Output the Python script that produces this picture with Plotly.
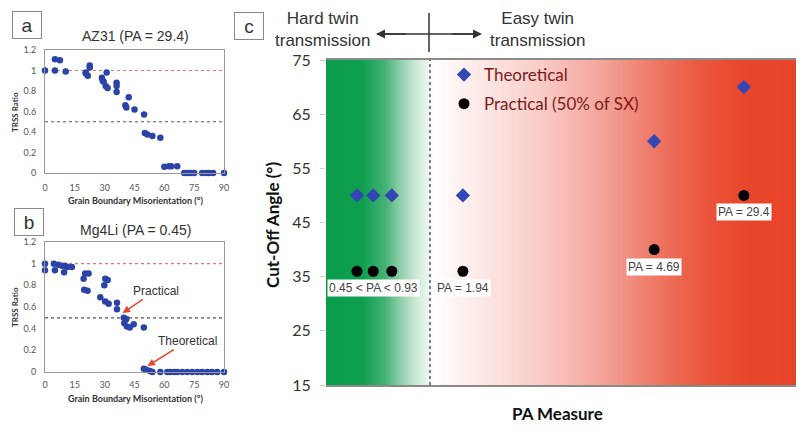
import numpy as np
import plotly.graph_objects as go

# page body has an 8px margin; the figure is sized so that it fills the 804x432 window exactly
OFF = 8
W, H = 804 - OFF, 432 - 2 * OFF


def px(x):
    return (x - OFF) / W


def py(y):
    return 1 - (y - OFF) / H


# ---------------- Data ----------------
# Panel a: AZ31 (PA = 29.4)
az31_misorientation = [0, 5, 7.5, 5, 10.4, 22.5, 22.5, 20.5, 20.5, 21.5, 28.6, 29, 31, 29.5, 30.5,
                       31.5, 36, 36, 36, 42.1, 40.4, 40.9, 45, 49.8, 50.2, 51.5, 54, 58, 60, 62.3,
                       63.5, 66.5, 70, 71.5, 73, 75, 79, 81, 82.5, 84.5, 90]
az31_trss = [1.00, 1.11, 1.10, 1.00, 0.99, 1.05, 1.03, 0.98, 0.97, 0.95, 0.93, 0.90, 0.98, 0.89, 0.85,
             0.83, 0.88, 0.85, 0.79, 0.74, 0.66, 0.64, 0.62, 0.57, 0.39, 0.375, 0.36, 0.345, 0.06, 0.065,
             0.065, 0.065, 0, 0, 0, 0, 0, 0, 0, 0, 0]

# Panel b: Mg4Li (PA = 0.45)
mg4li_misorientation = [0, 0, 4.5, 5, 6.7, 8.4, 10, 11.3, 9.6, 13.5, 20.2, 21.9, 19.4, 19.7, 21.4,
                        27.8, 30.3, 31.5, 29.8, 30.3, 32, 36.2, 36.2, 39.6, 40.9, 39.9, 41.2, 42.6,
                        44.6, 49.7, 49.7, 51, 52.7, 54, 58, 61.5, 63, 65, 66.5, 69, 71.5, 74, 76.6,
                        79, 81.6, 84, 86.6, 90]
mg4li_trss = [1.00, 0.94, 1.00, 0.94, 0.99, 0.98, 0.98, 0.97, 0.92, 0.97, 0.91, 0.91, 0.86, 0.76, 0.75,
              0.69, 0.86, 0.85, 0.80, 0.65, 0.63, 0.64, 0.58, 0.50, 0.49, 0.45, 0.42, 0.41,
              0.44, 0.41, 0.03, 0.02, 0.01, 0, 0, 0, 0, 0, 0, 0, 0, 0, 0,
              0, 0, 0, 0, 0]

trss_upper_level = 1.0
trss_half_level = 0.5
mis_ticks = [0, 15, 30, 45, 60, 75, 90]

# Panel c: cut-off angle vs PA measure (ordinal position along the PA axis)
pa_position = [0.65, 0.99, 1.38, 2.87, 6.88, 8.76]
cutoff_theoretical = [50, 50, 50, 50, 60, 70]
cutoff_practical = [36, 36, 36, 36, 40, 50]
pa_labels = ["0.45 &lt; PA &lt; 0.93", "PA = 1.94", "PA = 4.69", "PA = 29.4"]
pa_label_index = [1, 3, 4, 5]
divider_position = 2.18
cutoff_ticks = [15, 25, 35, 45, 55, 65, 75]

# ---------------- Styles ----------------
SANS = "Liberation Sans, Arial, sans-serif"
CAL = "Lato, Open Sans, sans-serif"
BLUE_PT = "#2b43a6"
DIAMOND = "#3346b5"

fig = go.Figure()

# gradient background (panel c)
gx = np.linspace(0, 10, 481)
cs_points = [
    (0.0, "#0a9d4c"), (0.075, "#0c9e4d"), (0.124, "#45b174"), (0.155, "#8dcea8"),
    (0.187, "#c9e8d5"), (0.2175, "#eef8f2"), (0.2185, "#ffffff"), (0.30, "#fdeeec"),
    (0.449, "#f9cdc7"), (0.574, "#f4a59b"), (0.679, "#ef7c6a"), (0.784, "#ea5840"),
    (0.868, "#e8472c"), (1.0, "#e8432a"),
]
fig.add_trace(go.Heatmap(
    x=gx, y=[15, 75], z=[gx, gx], zmin=0, zmax=10,
    colorscale=[[p, c] for p, c in cs_points], showscale=False,
    hoverinfo="skip", xaxis="x3", yaxis="y3"))

# panel a/b scatter
fig.add_trace(go.Scatter(x=az31_misorientation, y=az31_trss, mode="markers",
                         marker=dict(color=BLUE_PT, size=6.5), showlegend=False,
                         xaxis="x", yaxis="y", cliponaxis=False))
fig.add_trace(go.Scatter(x=mg4li_misorientation, y=mg4li_trss, mode="markers",
                         marker=dict(color=BLUE_PT, size=6.5), showlegend=False,
                         xaxis="x2", yaxis="y2", cliponaxis=False))

# panel c scatter
fig.add_trace(go.Scatter(x=pa_position, y=cutoff_theoretical, mode="markers", name="Theoretical",
                         marker=dict(color=DIAMOND, size=11, symbol="diamond"),
                         xaxis="x3", yaxis="y3", legendgroup="t"))
fig.add_trace(go.Scatter(x=pa_position, y=cutoff_practical, mode="markers",
                         name="Practical (50% of SX)",
                         marker=dict(color="black", size=11, symbol="circle"),
                         xaxis="x3", yaxis="y3", legendgroup="p"))

shapes = []
for xr, yr in (("x", "y"), ("x2", "y2")):
    shapes.append(dict(type="line", xref=xr, yref=yr, x0=0, x1=90, y0=trss_upper_level,
                       y1=trss_upper_level, line=dict(color="#e57373", width=1.2, dash="dot"), layer="below"))
    shapes.append(dict(type="line", xref=xr, yref=yr, x0=0, x1=90, y0=trss_half_level,
                       y1=trss_half_level, line=dict(color="#555555", width=1.2, dash="dot"), layer="below"))
shapes.append(dict(type="line", xref="x3", yref="y3", x0=divider_position, x1=divider_position,
                   y0=15, y1=75, line=dict(color="#555555", width=1.5, dash="dot")))
# header arrow pieces
shapes.append(dict(type="line", xref="paper", yref="paper", x0=px(429), x1=px(429), y0=py(13), y1=py(52),
                   line=dict(color="#333333", width=1.5)))
shapes.append(dict(type="line", xref="paper", yref="paper", x0=px(377), x1=px(480), y0=py(34), y1=py(34),
                   line=dict(color="#333333", width=1.5)))

annotations = []


def note(text, x, y, **kw):
    d = dict(text=text, x=px(x), y=py(y), xref="paper", yref="paper", showarrow=False,
             xanchor="center", yanchor="middle")
    d.update(kw)
    annotations.append(d)


# panel labels
for t, (x, y) in {"a": (27, 25), "b": (29, 222), "c": (249, 26)}.items():
    note(t, x, y, font=dict(family=SANS, size=19, color="#333"), bgcolor="white",
         bordercolor="#888", borderwidth=1, borderpad=1, width=26, height=24)
# titles a/b
note("AZ31 (PA = 29.4)", 135, 36, font=dict(family=SANS, size=14, color="#333"))
note("Mg4Li (PA = 0.45)", 135, 230, font=dict(family=SANS, size=14, color="#333"))
for yt, yl in ((200, 112), (398, 307)):
    note("<b>Grain Boundary Misorientation (°)</b>", 135, yt, font=dict(family=CAL, size=9, color="#333"))
    note("<b>TRSS Ratio</b>", 15, yl, textangle=-90, font=dict(family=CAL, size=8, color="#333"))
# red arrows panel b
annotations.append(dict(text="Practical", x=39, y=0.545, xref="x2", yref="y2", ax=33, ay=-22,
                        showarrow=True, arrowhead=2, arrowsize=1, arrowwidth=1.5, arrowcolor="#e8452f",
                        font=dict(family=SANS, size=12, color="#333")))
annotations.append(dict(text="Theoretical", x=51.5, y=0.055, xref="x2", yref="y2", ax=40, ay=-25,
                        showarrow=True, arrowhead=2, arrowsize=1, arrowwidth=1.5, arrowcolor="#e8452f",
                        font=dict(family=SANS, size=12, color="#333")))
# header
note("Hard twin<br>transmission", 322, 29, font=dict(family=SANS, size=17, color="#333"))
note("Easy twin<br>transmission", 537, 29, font=dict(family=SANS, size=17, color="#333"))
for tip in (376, 482):
    annotations.append(dict(text="", x=px(tip), y=py(34), xref="paper", yref="paper", ax=(429 - tip) * 0.6,
                            ay=0, showarrow=True, arrowhead=2, arrowsize=1.2, arrowwidth=1.5,
                            arrowcolor="#333333"))
# axis titles panel c
note("<b>Cut-Off Angle (°)</b>", 272, 225, textangle=-90, font=dict(family=CAL, size=17, color="#111"))
note("<b>PA Measure</b>", 557, 413, font=dict(family=CAL, size=17, color="#111"))
# PA labels
for txt, i in zip(pa_labels, pa_label_index):
    annotations.append(dict(text=txt, x=pa_position[i], y=cutoff_practical[i], xref="x3", yref="y3",
                            yshift=-17, showarrow=False, bgcolor="white", borderpad=1,
                            font=dict(family=SANS, size=12, color="#444")))

small_ax = dict(showgrid=False, zeroline=False, showline=True, mirror=True, linecolor="#9a9a9a",
                linewidth=1, ticks="", automargin=False,
                tickfont=dict(family=CAL, size=9, color="#555"))

fig.update_layout(
    template="none",
    width=W, height=H, autosize=False,
    margin=dict(l=0, r=0, t=0, b=0, pad=0),
    paper_bgcolor="white", plot_bgcolor="white",
    xaxis=dict(domain=[px(45), px(224)], range=[0, 90], tickvals=mis_ticks, anchor="y",
               ticklabelstandoff=6, **small_ax),
    yaxis=dict(domain=[py(173), py(50)], range=[0, 1.2], dtick=0.2, anchor="x",
               ticklabelstandoff=6, **small_ax),
    xaxis2=dict(domain=[px(45), px(224)], range=[0, 90], tickvals=mis_ticks, anchor="y2",
                ticklabelstandoff=4, **small_ax),
    yaxis2=dict(domain=[py(372), py(242)], range=[0, 1.2], dtick=0.2, anchor="x2",
                ticklabelstandoff=6, **small_ax),
    xaxis3=dict(domain=[px(326), px(803)], range=[0, 10], anchor="y3", showticklabels=False,
                showgrid=False, zeroline=False, showline=True, mirror=True, linecolor="#8a8a8a",
                linewidth=1.5, ticks="", automargin=False),
    yaxis3=dict(domain=[py(385), py(60)], range=[15, 75], tickvals=cutoff_ticks, anchor="x3",
                showgrid=False, zeroline=False, showline=False, ticks="outside", ticklen=5,
                tickcolor="#cccccc", ticklabelstandoff=6, automargin=False,
                tickfont=dict(family=CAL, size=16, color="#333")),
    legend=dict(x=px(444), y=py(57), xanchor="left", yanchor="top", bgcolor="rgba(0,0,0,0)",
                font=dict(family=CAL, size=17, color="#7a1c1c"), tracegroupgap=4,
                itemwidth=30),
    shapes=shapes,
    annotations=annotations,
)

fig.write_html("out.html")
